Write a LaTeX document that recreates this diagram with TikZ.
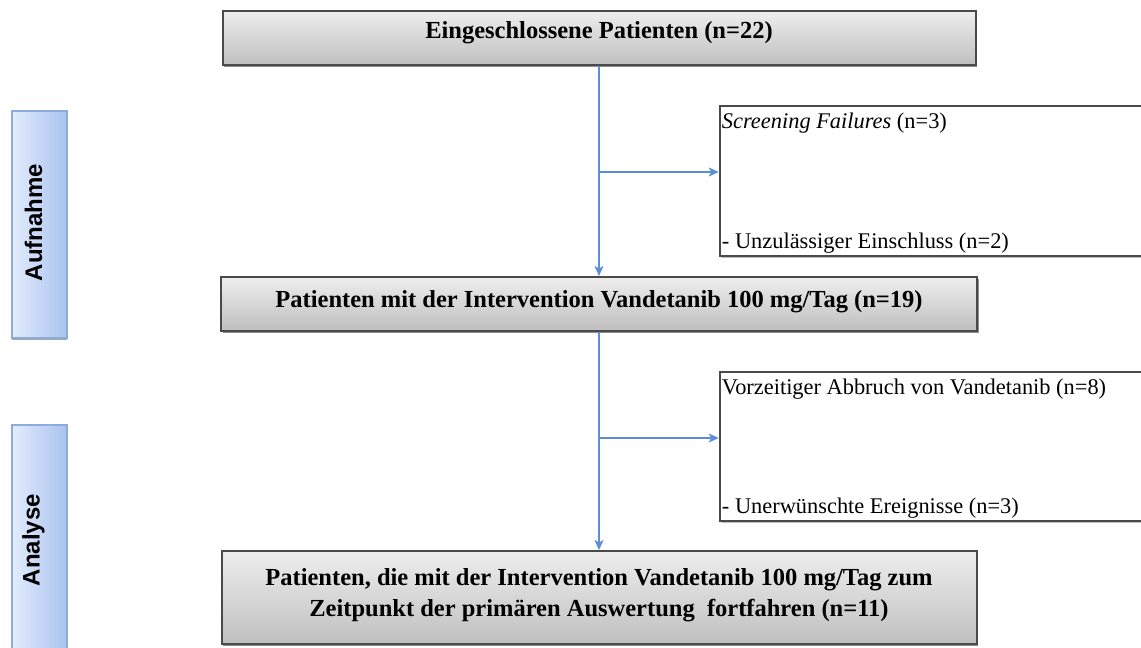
\documentclass[tikz,border=0pt]{standalone}
\usepackage{fontspec}
\setmainfont{Liberation Serif}
\setsansfont{Liberation Sans}
\usetikzlibrary{arrows.meta,shadows,calc}

\definecolor{flowblue}{HTML}{5A8ED8}
\definecolor{boxtop}{HTML}{EEEEEE}
\definecolor{boxbot}{HTML}{BFBFBF}
\definecolor{boxedge}{HTML}{4A4A4A}
\definecolor{tabl}{HTML}{E3ECFD}
\definecolor{tabr}{HTML}{A8C3EF}
\definecolor{tabedge}{HTML}{8DACDE}

\tikzset{
  mainbox/.style={rectangle, draw=boxedge, line width=2pt,
    top color=boxtop, bottom color=boxbot, inner sep=0pt, align=center,
    font=\fontsize{24.5}{33}\selectfont\bfseries,
    drop shadow={shadow xshift=1.5pt, shadow yshift=-1.5pt, opacity=0.45, fill=black}},
  sidebox/.style={rectangle, draw=boxedge, line width=2.5pt, fill=white, inner sep=0pt,
    drop shadow={shadow xshift=1pt, shadow yshift=-1.5pt, opacity=0.25, fill=black}},
  sidetext/.style={inner sep=0pt, anchor=base west, font=\fontsize{22.4}{27}\selectfont},
  tab/.style={rectangle, draw=tabedge, line width=1.5pt, left color=tabl, right color=tabr,
    inner sep=0pt,
    drop shadow={shadow xshift=0pt, shadow yshift=-2pt, opacity=0.35, fill=black}},
  tabtext/.style={rotate=90, inner sep=0pt, font=\fontsize{24}{28}\selectfont\sffamily\bfseries},
  flowline/.style={draw=flowblue, line width=1.6pt},
  flow/.style={flowline, -{Stealth[length=10pt,width=9pt,inset=2.5pt]}},
}

\begin{document}
\begin{tikzpicture}[x=1pt,y=-1pt]
  \useasboundingbox (0,0) rectangle (1141,648);
  \clip (0,0) rectangle (1141,648);

  % phase tabs on the left
  \node[tab, minimum width=55pt, minimum height=227pt] (tabA) at (39.5,224.5) {};
  \node[tabtext] (tabAtxt) at ($(tabA.center)+(-6,-2)$) {Aufnahme};
  \node[tab, minimum width=55pt, minimum height=230pt] (tabB) at (39.5,540) {};
  \node[tabtext] (tabBtxt) at ($(tabB.center)+(-6,0)$) {Analyse};

  % main flow boxes
  \node[mainbox, minimum width=753pt, minimum height=54pt] (b1) at (599,38)
    {\raisebox{5pt}[\height][\depth]{Eingeschlossene Patienten (n=22)}};
  \node[mainbox, minimum width=756pt, minimum height=54pt] (b2) at (599,304)
    {\raisebox{2pt}[\height][\depth]{Patienten mit der Intervention Vandetanib 100 mg/Tag (n=19)}};
  \node[mainbox, minimum width=755pt, minimum height=93pt] (b3) at (599,597.5)
    {\raisebox{3pt}[\height][\depth]{\begin{tabular}{@{}c@{}}Patienten, die mit der Intervention Vandetanib 100 mg/Tag zum\\[-2pt]
      Zeitpunkt der primären Auswertung~ fortfahren (n=11)\end{tabular}}};

  % exclusion boxes on the right
  \node[sidebox, minimum width=440pt, minimum height=150pt] (s1) at (940,181) {};
  \node[sidetext] (s1a) at ($(s1.north west)+(3,24)$) {\textit{Screening Failures} (n=3)};
  \node[sidetext] (s1b) at ($(s1.south west)+(3,-9)$) {- Unzulässiger Einschluss (n=2)};

  \node[sidebox, minimum width=440pt, minimum height=149pt] (s2) at (940,446.5) {};
  \node[sidetext] (s2a) at ($(s2.north west)+(3,24)$) {Vorzeitiger Abbruch von Vandetanib (n=8)};
  \node[sidetext] (s2b) at ($(s2.south west)+(3,-9)$) {- Unerwünschte Ereignisse (n=3)};

  % connectors
  \coordinate (j1) at (599,172);
  \coordinate (j2) at (599,438);
  \draw[flow] (b1.south) -- (b2.north);
  \draw[flow] (j1) -- (s1.west |- j1);
  \draw[flow] (b2.south) -- (b3.north);
  \draw[flow] (j2) -- (s2.west |- j2);
\end{tikzpicture}
\end{document}
